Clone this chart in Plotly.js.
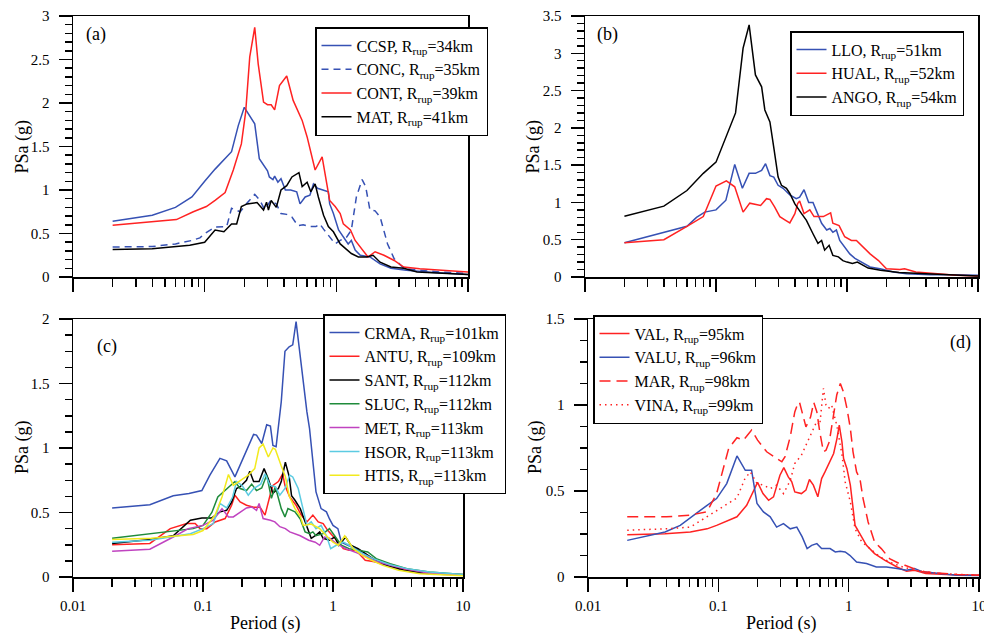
<!DOCTYPE html>
<html>
<head>
<meta charset="utf-8">
<script src="https://cdn.plot.ly/plotly-3.0.1.min.js"></script>
<style>html,body{margin:0;padding:0;background:#fff;}#chart{width:984px;height:633px;}</style>
</head>
<body>
<div id="chart"></div>
<script>
// ---------- data: [period (s), PSa (g)] ----------
// Panel (a)
const CCSP = [[0.02,0.64],[0.04,0.71],[0.06,0.80],[0.08,0.92],[0.1,1.10],[0.12,1.24],[0.16,1.44],[0.18,1.74],[0.2,1.95],[0.22,1.85],[0.24,1.76],[0.26,1.36],[0.28,1.28],[0.3,1.22],[0.31,1.15],[0.33,1.12],[0.34,1.16],[0.36,1.09],[0.38,1.13],[0.41,1.0],[0.45,1.0],[0.5,0.98],[0.53,0.84],[0.58,0.92],[0.63,0.94],[0.67,1.07],[0.72,1.02],[0.78,1.0],[0.87,0.98],[0.89,0.84],[0.95,0.73],[1.04,0.54],[1.13,0.46],[1.23,0.38],[1.3,0.42],[1.39,0.31],[1.52,0.25],[1.8,0.23],[2.15,0.15],[2.6,0.1],[3.4,0.077],[5.2,0.055],[10,0.03]];
const CONC = [[0.02,0.345],[0.04,0.35],[0.06,0.38],[0.08,0.42],[0.092,0.45],[0.1,0.5],[0.12,0.575],[0.147,0.58],[0.16,0.79],[0.186,0.75],[0.21,0.85],[0.24,0.95],[0.263,0.88],[0.286,0.77],[0.317,0.88],[0.35,0.84],[0.38,0.73],[0.42,0.72],[0.46,0.69],[0.51,0.59],[0.56,0.6],[0.63,0.58],[0.7,0.58],[0.75,0.61],[0.8,0.55],[0.89,0.46],[0.98,0.38],[1.07,0.42],[1.2,0.46],[1.3,0.54],[1.42,0.92],[1.57,1.12],[1.67,1.04],[1.8,0.77],[1.97,0.76],[2.15,0.69],[2.45,0.38],[2.75,0.21],[3.25,0.1],[4.3,0.077],[6.1,0.058],[10,0.04]];
const CONT = [[0.02,0.595],[0.061,0.66],[0.082,0.75],[0.103,0.81],[0.12,0.88],[0.143,0.97],[0.165,1.23],[0.19,1.53],[0.205,1.9],[0.22,2.53],[0.24,2.87],[0.255,2.45],[0.28,2.01],[0.3,1.98],[0.32,1.98],[0.34,1.92],[0.37,2.2],[0.42,2.31],[0.47,2.03],[0.55,1.8],[0.6,1.61],[0.65,1.38],[0.69,1.23],[0.78,1.38],[0.82,1.19],[0.89,0.88],[0.98,0.81],[1.07,0.73],[1.13,0.61],[1.28,0.54],[1.39,0.42],[1.57,0.31],[1.74,0.23],[1.97,0.29],[2.3,0.25],[2.75,0.19],[3.25,0.115],[4.3,0.096],[6.1,0.077],[10,0.058]];
const MAT = [[0.02,0.315],[0.04,0.326],[0.077,0.365],[0.1,0.40],[0.12,0.54],[0.14,0.52],[0.16,0.61],[0.175,0.61],[0.19,0.81],[0.21,0.84],[0.25,0.855],[0.28,0.77],[0.295,0.86],[0.305,0.77],[0.32,0.88],[0.35,0.8],[0.38,1.0],[0.42,1.05],[0.46,1.15],[0.52,1.2],[0.55,1.04],[0.6,1.09],[0.64,0.98],[0.69,1.07],[0.73,0.92],[0.8,0.71],[0.87,0.58],[0.95,0.52],[1.07,0.38],[1.2,0.31],[1.3,0.27],[1.47,0.23],[1.7,0.23],[1.9,0.25],[2.15,0.17],[2.6,0.115],[3.25,0.1],[4.1,0.058],[6.1,0.046],[10,0.03]];
// Panel (b)
const LLO = [[0.02,0.46],[0.04,0.6],[0.06,0.68],[0.071,0.8],[0.082,0.87],[0.1,0.9],[0.119,1.03],[0.139,1.51],[0.159,1.19],[0.179,1.39],[0.2,1.39],[0.223,1.43],[0.239,1.52],[0.258,1.36],[0.276,1.34],[0.298,1.23],[0.325,1.19],[0.366,1.1],[0.41,1.05],[0.435,1.07],[0.47,1.17],[0.51,1.0],[0.55,1.0],[0.58,0.9],[0.64,0.72],[0.7,0.63],[0.74,0.65],[0.78,0.6],[0.83,0.63],[0.88,0.49],[0.96,0.4],[1.05,0.31],[1.15,0.25],[1.29,0.2],[1.5,0.134],[1.79,0.11],[2.26,0.067],[2.85,0.045],[4.3,0.03],[6,0.03],[10,0.025]];
const HUAL = [[0.02,0.46],[0.04,0.5],[0.06,0.68],[0.08,0.81],[0.1,1.22],[0.12,1.29],[0.139,1.21],[0.161,0.87],[0.181,0.99],[0.219,0.96],[0.243,1.05],[0.258,1.04],[0.28,0.94],[0.307,0.81],[0.34,0.76],[0.366,0.725],[0.4,0.85],[0.42,0.985],[0.435,1.02],[0.47,0.85],[0.52,0.9],[0.56,0.81],[0.66,0.81],[0.75,0.86],[0.78,0.72],[0.87,0.69],[0.96,0.54],[1.08,0.49],[1.18,0.49],[1.33,0.4],[1.5,0.31],[1.74,0.22],[2.0,0.11],[2.53,0.1],[2.75,0.11],[3.35,0.067],[4.8,0.045],[6.8,0.022],[10,0.015]];
const ANGO = [[0.02,0.815],[0.04,0.95],[0.06,1.16],[0.08,1.39],[0.1,1.54],[0.12,1.88],[0.141,2.2],[0.161,3.07],[0.179,3.38],[0.2,2.71],[0.223,2.55],[0.236,2.24],[0.258,2.08],[0.278,1.7],[0.298,1.34],[0.316,1.23],[0.345,1.19],[0.366,1.12],[0.40,0.98],[0.45,0.85],[0.49,0.76],[0.55,0.58],[0.6,0.45],[0.64,0.49],[0.675,0.36],[0.73,0.425],[0.78,0.29],[0.86,0.27],[0.93,0.22],[1.0,0.2],[1.1,0.18],[1.2,0.2],[1.3,0.17],[1.45,0.12],[1.8,0.09],[2.5,0.06],[4,0.045],[6,0.03],[10,0.015]];
// Panel (c)
const CRMA = [[0.02,0.535],[0.039,0.56],[0.059,0.63],[0.078,0.647],[0.098,0.67],[0.113,0.79],[0.135,0.92],[0.152,0.9],[0.176,0.776],[0.193,0.867],[0.216,0.98],[0.245,1.105],[0.258,1.1],[0.283,1.035],[0.309,1.18],[0.33,1.17],[0.345,1.02],[0.365,1.01],[0.4,1.36],[0.427,1.75],[0.46,1.785],[0.49,1.8],[0.52,1.98],[0.55,1.77],[0.59,1.51],[0.63,1.28],[0.66,1.15],[0.7,0.92],[0.74,0.66],[0.81,0.53],[0.89,0.505],[0.94,0.45],[1.0,0.4],[1.09,0.375],[1.16,0.27],[1.3,0.246],[1.47,0.22],[1.7,0.194],[1.98,0.13],[2.42,0.096],[3.05,0.065],[4.1,0.039],[5.5,0.026],[10,0.013]];
const ANTU = [[0.02,0.25],[0.039,0.26],[0.056,0.375],[0.075,0.414],[0.087,0.414],[0.095,0.375],[0.107,0.375],[0.124,0.427],[0.148,0.453],[0.166,0.556],[0.176,0.634],[0.193,0.582],[0.216,0.556],[0.245,0.54],[0.275,0.54],[0.3,0.48],[0.328,0.634],[0.345,0.71],[0.38,0.74],[0.41,0.8],[0.427,0.71],[0.465,0.62],[0.52,0.556],[0.57,0.48],[0.63,0.427],[0.7,0.48],[0.77,0.427],[0.84,0.414],[0.91,0.362],[1.0,0.32],[1.1,0.27],[1.2,0.22],[1.33,0.207],[1.5,0.207],[1.77,0.13],[2.15,0.116],[2.75,0.09],[3.7,0.052],[5.5,0.026],[10,0.02]];
const SANT = [[0.02,0.26],[0.039,0.29],[0.059,0.32],[0.08,0.44],[0.098,0.458],[0.117,0.458],[0.135,0.505],[0.152,0.517],[0.166,0.58],[0.181,0.686],[0.193,0.7],[0.216,0.75],[0.229,0.82],[0.245,0.74],[0.27,0.74],[0.295,0.84],[0.318,0.76],[0.345,0.65],[0.38,0.686],[0.4,0.74],[0.43,0.89],[0.46,0.78],[0.48,0.63],[0.51,0.595],[0.56,0.53],[0.63,0.4],[0.68,0.3],[0.73,0.32],[0.79,0.35],[0.84,0.3],[0.94,0.285],[1.03,0.31],[1.11,0.246],[1.25,0.31],[1.37,0.246],[1.56,0.22],[1.77,0.18],[2.03,0.142],[2.6,0.09],[3.5,0.052],[4.65,0.034],[7.4,0.02],[10,0.015]];
const SLUC = [[0.02,0.3],[0.039,0.336],[0.084,0.375],[0.1,0.4],[0.117,0.5],[0.13,0.62],[0.152,0.686],[0.176,0.74],[0.193,0.686],[0.216,0.67],[0.237,0.72],[0.258,0.67],[0.283,0.69],[0.309,0.79],[0.336,0.61],[0.36,0.7],[0.4,0.53],[0.427,0.466],[0.45,0.53],[0.51,0.505],[0.56,0.45],[0.61,0.35],[0.66,0.336],[0.7,0.35],[0.74,0.32],[0.84,0.336],[0.94,0.375],[1.03,0.32],[1.16,0.246],[1.33,0.22],[1.6,0.207],[1.85,0.194],[2.15,0.142],[2.75,0.103],[3.7,0.065],[5.5,0.039],[10,0.02]];
const MET = [[0.02,0.2],[0.039,0.215],[0.059,0.31],[0.077,0.375],[0.1,0.4],[0.12,0.44],[0.14,0.53],[0.157,0.466],[0.171,0.466],[0.193,0.5],[0.216,0.535],[0.237,0.543],[0.258,0.517],[0.27,0.57],[0.29,0.453],[0.33,0.44],[0.357,0.427],[0.39,0.39],[0.43,0.375],[0.465,0.35],[0.56,0.32],[0.65,0.285],[0.73,0.27],[0.79,0.246],[0.86,0.31],[0.94,0.3],[1.06,0.26],[1.25,0.22],[1.6,0.18],[2.03,0.13],[2.75,0.09],[3.7,0.06],[5.5,0.03],[10,0.015]];
const HSOR = [[0.02,0.27],[0.039,0.285],[0.08,0.336],[0.1,0.375],[0.12,0.414],[0.135,0.57],[0.152,0.535],[0.169,0.62],[0.181,0.74],[0.2,0.71],[0.223,0.634],[0.245,0.686],[0.278,0.72],[0.3,0.8],[0.328,0.71],[0.36,0.7],[0.39,0.634],[0.427,0.686],[0.465,0.79],[0.49,0.776],[0.54,0.686],[0.57,0.58],[0.63,0.4],[0.68,0.427],[0.74,0.375],[0.81,0.4],[0.89,0.32],[0.96,0.22],[1.06,0.246],[1.2,0.27],[1.33,0.246],[1.6,0.194],[2.03,0.142],[2.75,0.096],[3.7,0.065],[5.5,0.039],[10,0.02]];
const HTIS = [[0.02,0.29],[0.04,0.3],[0.065,0.32],[0.084,0.33],[0.1,0.36],[0.124,0.48],[0.14,0.62],[0.157,0.794],[0.171,0.71],[0.19,0.74],[0.223,0.79],[0.25,0.84],[0.27,1.0],[0.29,1.03],[0.318,0.93],[0.345,1.0],[0.36,0.99],[0.4,0.86],[0.43,0.78],[0.46,0.63],[0.51,0.53],[0.56,0.47],[0.59,0.4],[0.68,0.41],[0.79,0.375],[0.89,0.32],[1.0,0.27],[1.1,0.246],[1.23,0.32],[1.3,0.285],[1.43,0.22],[1.67,0.17],[1.98,0.13],[2.42,0.09],[3.2,0.052],[4.65,0.026],[7.4,0.013],[10,0.01]];
// Panel (d)
const VAL = [[0.02,0.246],[0.039,0.252],[0.061,0.262],[0.082,0.28],[0.097,0.3],[0.116,0.324],[0.139,0.35],[0.165,0.417],[0.186,0.495],[0.2,0.55],[0.22,0.485],[0.243,0.446],[0.265,0.466],[0.297,0.592],[0.318,0.636],[0.344,0.582],[0.366,0.553],[0.386,0.495],[0.434,0.485],[0.47,0.505],[0.5,0.567],[0.536,0.534],[0.58,0.466],[0.62,0.572],[0.658,0.611],[0.72,0.67],[0.767,0.718],[0.813,0.805],[0.847,0.883],[0.888,0.786],[0.914,0.689],[0.97,0.63],[1.03,0.534],[1.12,0.3],[1.22,0.252],[1.37,0.184],[1.58,0.136],[1.9,0.097],[2.35,0.058],[2.78,0.033],[3.2,0.039],[3.9,0.02],[5.6,0.014],[10,0.01]];
const VALU = [[0.02,0.213],[0.039,0.262],[0.051,0.3],[0.0645,0.36],[0.082,0.417],[0.097,0.456],[0.116,0.543],[0.139,0.704],[0.161,0.62],[0.18,0.62],[0.198,0.427],[0.222,0.378],[0.25,0.35],[0.28,0.29],[0.316,0.31],[0.356,0.28],[0.4,0.29],[0.44,0.233],[0.48,0.165],[0.52,0.184],[0.57,0.194],[0.62,0.165],[0.72,0.165],[0.79,0.146],[0.86,0.15],[0.94,0.146],[1.02,0.126],[1.15,0.087],[1.37,0.078],[1.63,0.058],[1.95,0.058],[2.35,0.049],[2.78,0.039],[3.2,0.049],[3.7,0.03],[5,0.02],[6.7,0.01],[10,0.008]];
const MAR = [[0.02,0.35],[0.04,0.35],[0.061,0.36],[0.082,0.38],[0.097,0.485],[0.12,0.747],[0.139,0.81],[0.156,0.796],[0.18,0.854],[0.2,0.796],[0.235,0.728],[0.27,0.699],[0.307,0.67],[0.325,0.7],[0.356,0.815],[0.386,0.96],[0.41,1.015],[0.42,1.015],[0.445,0.94],[0.47,0.873],[0.51,0.93],[0.54,1.015],[0.57,0.96],[0.6,0.844],[0.64,0.728],[0.67,0.737],[0.71,0.786],[0.767,0.96],[0.81,1.058],[0.863,1.125],[0.91,1.077],[0.97,0.98],[1.03,0.864],[1.08,0.728],[1.15,0.611],[1.22,0.572],[1.29,0.456],[1.41,0.32],[1.58,0.204],[1.78,0.165],[2.06,0.107],[2.45,0.078],[2.7,0.068],[3.7,0.03],[6.7,0.015],[10,0.01]];
const VINA = [[0.02,0.272],[0.039,0.28],[0.061,0.29],[0.087,0.36],[0.103,0.398],[0.139,0.46],[0.16,0.572],[0.176,0.611],[0.198,0.543],[0.222,0.534],[0.25,0.514],[0.28,0.534],[0.316,0.485],[0.356,0.56],[0.386,0.66],[0.434,0.708],[0.49,0.796],[0.536,0.854],[0.567,0.902],[0.6,0.883],[0.64,1.096],[0.67,1.0],[0.7,0.98],[0.74,1.0],[0.77,0.94],[0.81,0.883],[0.89,0.708],[0.94,0.553],[1.03,0.437],[1.12,0.28],[1.26,0.204],[1.45,0.165],[1.75,0.116],[2.06,0.087],[2.6,0.058],[3.3,0.039],[5,0.02],[10,0.01]];

const xTickVals = [0.01, 0.1, 1, 10];
const xTickText = ['0.01', '0.1', '1', '10'];

// ---------- styling ----------
const FONT = "'Liberation Serif', 'Times New Roman', serif";
const BLUE = '#3651b4', RED = '#ff2222', BLACK = '#000000', GREEN = '#1f8b3b',
      MAGENTA = '#c043c0', CYAN = '#5ccbe2', YELLOW = '#f2ea1e';

function tr(data, name, color, ax, legend, dash) {
  return {
    x: data.map(d => d[0]), y: data.map(d => d[1]),
    type: 'scatter', mode: 'lines', name: name,
    line: {color: color, width: 1.5, dash: dash || 'solid'},
    xaxis: 'x' + ax, yaxis: 'y' + ax, legend: legend, hoverinfo: 'skip'
  };
}
const R = (st, d) => st + ', R<sub>rup</sub>=' + d + 'km';

const traces = [
  tr(CCSP, R('CCSP', 34), BLUE, '', 'legend'),
  tr(CONC, R('CONC', 35), BLUE, '', 'legend', '7px,5px'),
  tr(CONT, R('CONT', 39), RED, '', 'legend'),
  tr(MAT, R('MAT', 41), BLACK, '', 'legend'),
  tr(LLO, R('LLO', 51), BLUE, '2', 'legend2'),
  tr(HUAL, R('HUAL', 52), RED, '2', 'legend2'),
  tr(ANGO, R('ANGO', 54), BLACK, '2', 'legend2'),
  tr(CRMA, R('CRMA', 101), BLUE, '3', 'legend3'),
  tr(ANTU, R('ANTU', 109), RED, '3', 'legend3'),
  tr(SANT, R('SANT', 112), BLACK, '3', 'legend3'),
  tr(SLUC, R('SLUC', 112), GREEN, '3', 'legend3'),
  tr(MET, R('MET', 113), MAGENTA, '3', 'legend3'),
  tr(HSOR, R('HSOR', 113), CYAN, '3', 'legend3'),
  tr(HTIS, R('HTIS', 113), YELLOW, '3', 'legend3'),
  tr(VAL, R('VAL', 95), RED, '4', 'legend4'),
  tr(VALU, R('VALU', 96), BLUE, '4', 'legend4'),
  tr(MAR, R('MAR', 98), RED, '4', 'legend4', '11px,6px'),
  tr(VINA, R('VINA', 99), RED, '4', 'legend4', '1.5px,4px')
];

const W = 984, H = 633;
const px = v => v / W, py = v => 1 - v / H;

function xAxis(l, r, anchor, labels) {
  return {
    type: 'log', range: [-2, 1], domain: [px(l), px(r)], anchor: anchor,
    tickmode: 'array', tickvals: xTickVals, ticktext: xTickText,
    showticklabels: labels, ticks: 'outside', ticklen: 13, tickwidth: 1.5, tickcolor: '#000',
    ticklabelstandoff: 1, ticklabeloverflow: 'allow',
    minor: {ticks: 'outside', ticklen: 8, tickwidth: 1.5, tickcolor: '#000',
            tickvals: [2,3,4,5,6,7,8,9].flatMap(k => [0.01*k, 0.1*k, 1*k])},
    showline: true, linecolor: '#000', linewidth: 1.5, mirror: true,
    showgrid: false, zeroline: false,
    tickfont: {family: FONT, size: 15, color: '#000'}
  };
}
function yAxis(t, b, anchor, maxv, minorStep) {
  return {
    range: [0, maxv], domain: [py(b), py(t)], anchor: anchor,
    dtick: 0.5, tick0: 0, ticks: 'outside', ticklen: 13, tickwidth: 1.5, tickcolor: '#000',
    ticklabelstandoff: 6, ticklabeloverflow: 'allow',
    minor: {ticks: 'outside', ticklen: 7, tickwidth: 1.5, tickcolor: '#000', dtick: minorStep, tick0: 0},
    showline: true, linecolor: '#000', linewidth: 1.5, mirror: true,
    showgrid: false, zeroline: false,
    tickfont: {family: FONT, size: 15, color: '#000'}
  };
}
function leg(l, t) {
  return {
    x: px(l), y: py(t), xanchor: 'left', yanchor: 'top',
    bgcolor: '#fff', bordercolor: '#000', borderwidth: 1.5,
    font: {family: FONT, size: 16, color: '#000'},
    itemwidth: 30, tracegroupgap: 0, itemclick: false
  };
}
function ann(text, x, y, size, angle) {
  return {text: text, x: px(x), y: py(y), xref: 'paper', yref: 'paper',
          xanchor: 'center', yanchor: 'middle', showarrow: false, textangle: angle || 0,
          font: {family: FONT, size: size, color: '#000'}};
}

const layout = {
  width: W, height: H, margin: {l: 0, r: 0, t: 0, b: 0},
  paper_bgcolor: '#fff', plot_bgcolor: '#fff', showlegend: true,
  font: {family: FONT, color: '#000'},
  xaxis: xAxis(73, 468, 'y', false),
  yaxis: yAxis(16, 277, 'x', 3, 0.1),
  xaxis2: xAxis(585, 978, 'y2', false),
  yaxis2: yAxis(16, 277, 'x2', 3.5, 0.1),
  xaxis3: xAxis(73, 463, 'y3', true),
  yaxis3: yAxis(319, 577, 'x3', 2, 0.125),
  xaxis4: xAxis(588, 979, 'y4', true),
  yaxis4: yAxis(319, 577, 'x4', 1.5, 0.125),
  legend: leg(315, 27),
  legend2: leg(790, 31),
  legend3: leg(323, 314),
  legend4: leg(593, 315),
  annotations: [
    ann('(a)', 96, 35, 18), ann('(b)', 607, 35, 18),
    ann('(c)', 107, 346, 18), ann('(d)', 960, 342, 18),
    ann('PSa (g)', 22, 146.5, 18, -90), ann('PSa (g)', 533, 146.5, 18, -90),
    ann('PSa (g)', 22, 447, 18, -90), ann('PSa (g)', 535, 447, 18, -90),
    ann('Period (s)', 265, 623, 18), ann('Period (s)', 781, 623, 18)
  ]
};

Plotly.newPlot('chart', traces, layout, {displayModeBar: false, staticPlot: true});
</script>
</body>
</html>
